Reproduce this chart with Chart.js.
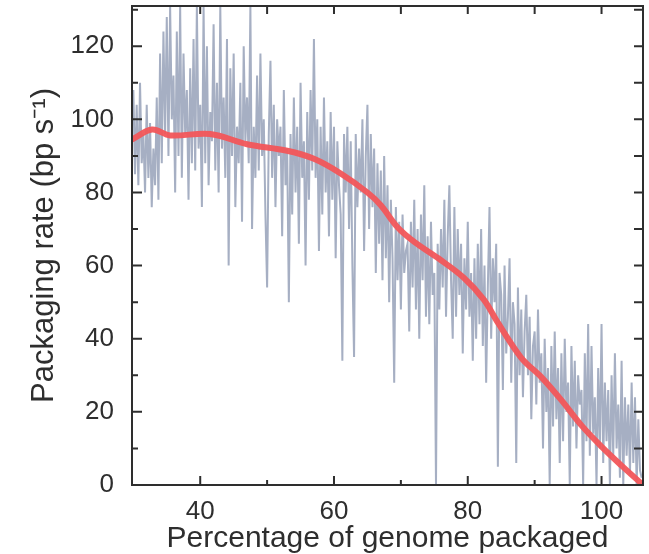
<!DOCTYPE html>
<html>
<head>
<meta charset="utf-8">
<script src="https://cdn.jsdelivr.net/npm/chart.js@4.4.1/dist/chart.umd.min.js"></script>
<style>
  html, body { margin: 0; padding: 0; background: #ffffff; }
  #wrap { width: 649px; height: 554px; }
</style>
</head>
<body>
<div id="wrap"><canvas id="c" width="649" height="554"></canvas></div>
<script>
// ---- data ----
const xTitle = 'Percentage of genome packaged';
const yTitle = 'Packaging rate (bp s\u207B\u00B9)';

const xTickLabels = [40, 60, 80, 100];
const yTickLabels = [0, 20, 40, 60, 80, 100, 120];
const xMinorTicks = [40, 50, 60, 70, 80, 90, 100];
const yMinorTicks = [0, 10, 20, 30, 40, 50, 60, 70, 80, 90, 100, 110, 120, 130];

// raw packaging-rate trace, sampled every 0.25 % starting at 29.75 %
const rawStart = 29.75;
const rawStep = 0.25;
const rawRate = [
  98,
  108, 85, 104, 82,   // 30
  110, 88, 96, 80,    // 31
  104, 84, 99, 76,    // 32
  92, 82, 106, 78,    // 33
  118, 88, 124, 96,   // 34
  128, 90, 131, 100,  // 35
  112, 80, 124, 90,   // 36
  131, 84, 118, 96,   // 37
  108, 78, 114, 88,   // 38
  122, 86, 131, 92,   // 39
  104, 76, 131, 88,   // 40
  120, 82, 102, 94,   // 41
  126, 86, 110, 80,   // 42
  131, 92, 106, 84,   // 43
  122, 60, 114, 90,   // 44
  118, 76, 98, 88,    // 45
  110, 72, 120, 94,   // 46
  106, 88, 131, 70,   // 47
  98, 84, 112, 86,    // 48
  118, 90, 100, 74,   // 49
  54, 96, 116, 84,    // 50
  104, 76, 100, 90,   // 51
  98, 68, 108, 82,    // 52
  92, 50, 96, 74,     // 53
  106, 80, 98, 66,    // 54
  110, 84, 94, 60,    // 55
  102, 78, 108, 86,   // 56
  122, 84, 100, 64,   // 57
  98, 74, 106, 80,    // 58
  94, 68, 102, 78,    // 59
  98, 62, 94, 82,     // 60
  74, 34, 96, 80,     // 61
  98, 70, 94, 60,     // 62
  35, 96, 76, 92,     // 63
  80, 100, 64, 90,    // 64
  104, 70, 96, 76,    // 65
  92, 58, 88, 66,     // 66
  86, 56, 90, 62,     // 67
  82, 50, 78, 62,     // 68
  28, 76, 56, 72,     // 69
  48, 74, 58, 64,     // 70
  66, 42, 72, 54,     // 71
  78, 48, 70, 40,     // 72
  74, 56, 82, 46,     // 73
  68, 44, 72, 52,     // 74
  58, 0, 66, 48,      // 75
  70, 54, 78, 46,     // 76
  68, 82, 56, 40,     // 77
  76, 46, 70, 52,     // 78
  66, 36, 62, 48,     // 79
  72, 46, 58, 34,     // 80
  62, 40, 66, 44,     // 81
  70, 38, 60, 28,     // 82
  54, 76, 40, 62,     // 83
  50, 66, 5, 58,      // 84
  52, 26, 60, 36,     // 85
  46, 62, 28, 50,     // 86
  44, 6, 54, 30,      // 87
  48, 24, 42, 52,     // 88
  30, 46, 18, 38,     // 89
  42, 22, 48, 28,     // 90
  36, 10, 40, 20,     // 91
  32, 0, 38, 16,      // 92
  42, 18, 32, 6,      // 93
  36, 12, 40, 20,     // 94
  28, 0, 38, 16,      // 95
  34, 10, 30, 22,     // 96
  26, 0, 36, 12,      // 97
  44, 8, 38, 14,      // 98
  24, 0, 32, 10,      // 99
  44, 6, 28, 12,      // 100
  26, 0, 30, 8,       // 101
  36, 10, 22, 2,      // 102
  34, 0, 24, 8,       // 103
  22, 3, 28, 6,       // 104
  24, 0, 18, 4,       // 105
  2
];

// smoothed rate (red curve)
const smoothX = [29.8, 32.8, 35.5, 41.5, 47, 53, 57, 61, 65, 67, 69.5, 72, 75.6, 79.4, 82.4, 84.5, 88, 91, 94, 97, 100, 103, 106.2];
const smoothY = [94.5, 97.2, 95.6, 96.0, 93.2, 91.4, 89.2, 85.2, 80.0, 76.5, 70.5, 66.5, 62.0, 56.7, 50.7, 44.4, 34.8, 29.5, 23.2, 16.3, 10.5, 5.3, 0.0];

const xMin = 29.8, xMax = 106.2, yMin = 0, yMax = 131;

// ---- build datasets ----
const rawPoints = rawRate.map((v, i) => ({ x: rawStart + i * rawStep, y: v }));
const smoothPoints = smoothX.map((x, i) => ({ x: x, y: smoothY[i] }));

const FONT = "'Liberation Sans', Arial, Helvetica, sans-serif";
const INK = '#2e2e2e';

const framePlugin = {
  id: 'frameTicks',
  afterDatasetsDraw(chart) {
    const ctx = chart.ctx;
    const a = chart.chartArea;
    const xs = chart.scales.x, ys = chart.scales.y;
    ctx.save();
    ctx.strokeStyle = INK;
    ctx.lineWidth = 2;
    ctx.strokeRect(a.left, a.top, a.right - a.left, a.bottom - a.top);
    ctx.beginPath();
    xMinorTicks.forEach(v => {
      const px = xs.getPixelForValue(v);
      const major = xTickLabels.includes(v);
      ctx.moveTo(px, a.bottom);
      ctx.lineTo(px, a.bottom - (major ? 9 : 5));
      ctx.moveTo(px, a.top);
      ctx.lineTo(px, a.top + 8);
    });
    yMinorTicks.forEach(v => {
      const py = ys.getPixelForValue(v);
      const major = yTickLabels.includes(v);
      ctx.moveTo(a.left, py);
      ctx.lineTo(a.left + (major ? 10 : 6), py);
      ctx.moveTo(a.right, py);
      ctx.lineTo(a.right - 9, py);
    });
    ctx.stroke();
    ctx.restore();
  }
};

new Chart(document.getElementById('c'), {
  type: 'line',
  data: {
    datasets: [
      {
        label: 'smoothed',
        data: smoothPoints,
        borderColor: 'rgba(242, 86, 90, 0.95)',
        borderWidth: 6,
        pointRadius: 0,
        tension: 0.35,
        order: 0
      },
      {
        label: 'raw',
        data: rawPoints,
        borderColor: '#a6afc3',
        borderWidth: 2,
        pointRadius: 0,
        tension: 0,
        order: 1
      }
    ]
  },
  options: {
    responsive: false,
    animation: false,
    events: [],
    layout: { padding: { top: 6, right: 6, left: 0, bottom: 0 } },
    plugins: { legend: { display: false }, tooltip: { enabled: false } },
    scales: {
      x: {
        type: 'linear',
        min: xMin, max: xMax,
        grid: { display: false },
        border: { display: false },
        afterBuildTicks: s => { s.ticks = xTickLabels.map(v => ({ value: v })); },
        afterFit: s => { s.height = 69; s.paddingLeft = 0; s.paddingRight = 0; },
        ticks: { color: INK, font: { family: FONT, size: 26 }, padding: 3, maxRotation: 0, autoSkip: false },
        title: { display: true, text: xTitle, color: INK, font: { family: FONT, size: 30 }, padding: { top: 0, bottom: -3 } }
      },
      y: {
        type: 'linear',
        min: yMin, max: yMax,
        grid: { display: false },
        border: { display: false },
        afterBuildTicks: s => { s.ticks = yTickLabels.map(v => ({ value: v })); },
        afterFit: s => { s.width = 132; s.paddingTop = 0; s.paddingBottom = 0; },
        ticks: { color: INK, font: { family: FONT, size: 26 }, padding: 10, autoSkip: false },
        title: { display: true, text: yTitle, color: INK, font: { family: FONT, size: 31 }, padding: { top: 26, bottom: 0 } }
      }
    }
  },
  plugins: [framePlugin]
});
</script>
</body>
</html>
